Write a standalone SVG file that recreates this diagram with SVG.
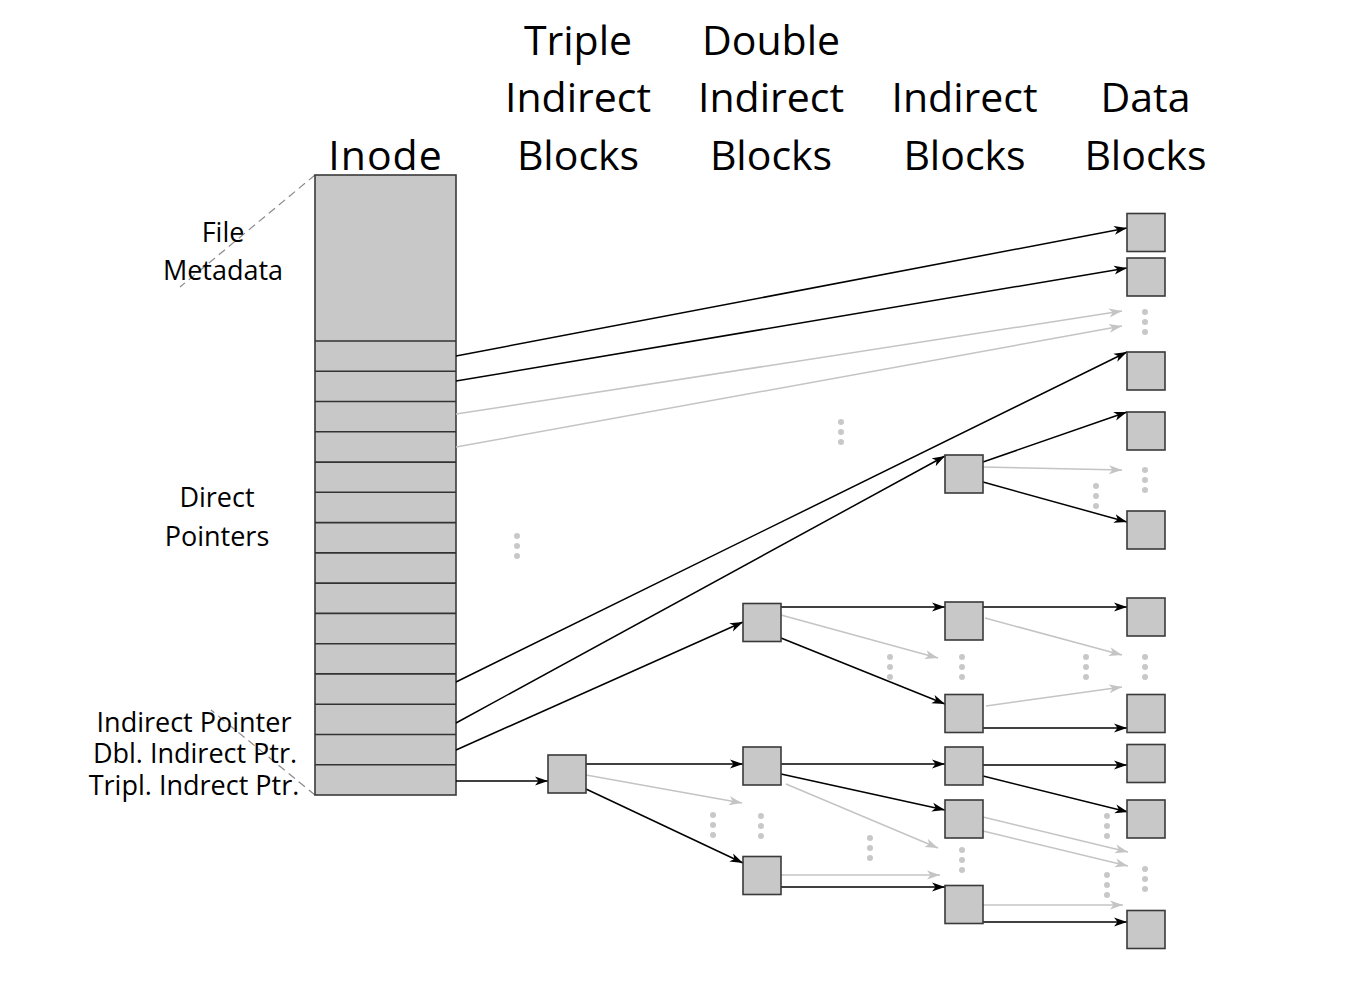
<svg xmlns="http://www.w3.org/2000/svg" width="1348" height="989" viewBox="0 0 1348 989">
<style>
.t{font-family:"Open Sans","Noto Sans","Liberation Sans",sans-serif;fill:#000;text-anchor:middle}
.h{font-size:41px}
.l{font-size:27px}
.blk{fill:#c8c8c8;stroke:#3a3a3a;stroke-width:1.6}
.sep{stroke:#333;stroke-width:1.6}
.a{stroke:#000;stroke-width:1.5;fill:none;marker-end:url(#ab)}
.g{stroke:#c4c4c4;stroke-width:1.5;fill:none;marker-end:url(#ag)}
.dash{stroke:#8a8a8a;stroke-width:1.2;stroke-dasharray:8 5;fill:none}
.d{fill:#c8c8c8}
</style>
<defs>
<marker id="ab" markerUnits="userSpaceOnUse" markerWidth="14" markerHeight="10" refX="13" refY="5" orient="auto"><path d="M0,0.5 L13,5 L0,9.5 L3.5,5 z" fill="#000"/></marker>
<marker id="ag" markerUnits="userSpaceOnUse" markerWidth="14" markerHeight="10" refX="13" refY="5" orient="auto"><path d="M0,0.5 L13,5 L0,9.5 L3.5,5 z" fill="#c4c4c4"/></marker>
<g id="dots"><circle cx="0" cy="0" r="3"/><circle cx="0" cy="10" r="3"/><circle cx="0" cy="20" r="3"/></g>
</defs>
<rect width="1348" height="989" fill="#fff"/>
<g id="titles">
<text class="t h" x="385.5" y="169.5" letter-spacing="1">Inode</text>
<text class="t h" x="578" y="54.5">Triple</text>
<text class="t h" x="578" y="112">Indirect</text>
<text class="t h" x="578" y="169.5">Blocks</text>
<text class="t h" x="771" y="54.5">Double</text>
<text class="t h" x="771" y="112">Indirect</text>
<text class="t h" x="771" y="169.5">Blocks</text>
<text class="t h" x="964.5" y="112">Indirect</text>
<text class="t h" x="964.5" y="169.5">Blocks</text>
<text class="t h" x="1145.5" y="112">Data</text>
<text class="t h" x="1145.5" y="169.5">Blocks</text>
</g>
<g id="labels">
<path class="dash" d="M315,175 L180,287"/>
<path class="dash" d="M315,795 L211,710"/>
<text class="t l" x="223" y="242">File</text>
<text class="t l" x="223" y="280">Metadata</text>
<text class="t l" x="217" y="507">Direct</text>
<text class="t l" x="217" y="546">Pointers</text>
<text class="t l" x="194" y="732">Indirect Pointer</text>
<text class="t l" x="195" y="763">Dbl. Indirect Ptr.</text>
<text class="t l" x="194" y="795">Tripl. Indrect Ptr.</text>
</g>
<g id="inode">
<rect class="blk" x="315" y="175" width="141" height="620"/>
<path class="sep" d="M315,341H456M315,371.3H456M315,401.5H456M315,431.8H456M315,462.1H456M315,492.3H456M315,522.6H456M315,552.9H456M315,583.1H456M315,613.4H456M315,643.7H456M315,673.9H456M315,704.2H456M315,734.5H456M315,764.7H456"/>
</g>
<g id="connectors">
<path class="g" d="M456,414 L1122,311"/>
<path class="g" d="M456,447 L1122,326"/>
<path class="g" d="M983,467 L1122,470"/>
<path class="g" d="M781,615 L938,658"/>
<path class="g" d="M985,618 L1122,655"/>
<path class="g" d="M986,706 L1122,687"/>
<path class="g" d="M586,775 L742,803"/>
<path class="g" d="M786,784 L938,848"/>
<path class="g" d="M781,875 L940,875"/>
<path class="g" d="M983,817 L1128,852"/>
<path class="g" d="M983,831 L1128,866"/>
<path class="g" d="M983,905 L1123,905"/>
<path class="a" d="M456,356 L1127,228"/>
<path class="a" d="M456,381 L1127,268"/>
<path class="a" d="M456,682 L1127,352"/>
<path class="a" d="M456,723 L945,456"/>
<path class="a" d="M456,750 L743,622"/>
<path class="a" d="M456,781 L548,781"/>
<path class="a" d="M983,462 L1127,412"/>
<path class="a" d="M983,482 L1127,522"/>
<path class="a" d="M781,607 L945,607"/>
<path class="a" d="M781,638 L945,704"/>
<path class="a" d="M983,607 L1127,607"/>
<path class="a" d="M983,728 L1127,728"/>
<path class="a" d="M586,764 L743,764"/>
<path class="a" d="M586,789 L743,863"/>
<path class="a" d="M781,764 L945,764"/>
<path class="a" d="M781,774 L945,810"/>
<path class="a" d="M781,887 L945,887"/>
<path class="a" d="M983,765 L1127,765"/>
<path class="a" d="M983,776 L1128,812"/>
<path class="a" d="M983,922 L1127,922"/>
</g>
<g id="ellipses" class="d">
<use href="#dots" x="1145" y="312"/>
<use href="#dots" x="841" y="422"/>
<use href="#dots" x="517" y="536"/>
<use href="#dots" x="1145" y="470"/>
<use href="#dots" x="1096" y="486"/>
<use href="#dots" x="890" y="657"/>
<use href="#dots" x="962" y="657"/>
<use href="#dots" x="1086" y="657"/>
<use href="#dots" x="1145" y="657"/>
<use href="#dots" x="713" y="815"/>
<use href="#dots" x="761" y="816"/>
<use href="#dots" x="870" y="838"/>
<use href="#dots" x="962" y="850"/>
<use href="#dots" x="1107" y="816"/>
<use href="#dots" x="1107" y="875"/>
<use href="#dots" x="1145" y="869"/>
</g>
<g id="triple"><rect class="blk" x="548" y="755" width="38" height="38"/></g>
<g id="double1"><rect class="blk" x="743" y="603.5" width="38" height="38"/></g>
<g id="double2"><rect class="blk" x="743" y="747" width="38" height="38"/></g>
<g id="double3"><rect class="blk" x="743" y="856.5" width="38" height="38"/></g>
<g id="indirect1"><rect class="blk" x="945" y="455" width="38" height="38"/></g>
<g id="indirect2"><rect class="blk" x="945" y="602" width="38" height="38"/></g>
<g id="indirect3"><rect class="blk" x="945" y="694.5" width="38" height="38"/></g>
<g id="indirect4"><rect class="blk" x="945" y="747" width="38" height="38"/></g>
<g id="indirect5"><rect class="blk" x="945" y="800" width="38" height="38"/></g>
<g id="indirect6"><rect class="blk" x="945" y="885.5" width="38" height="38"/></g>
<g id="data1"><rect class="blk" x="1127" y="213.5" width="38" height="38"/></g>
<g id="data2"><rect class="blk" x="1127" y="258" width="38" height="38"/></g>
<g id="data3"><rect class="blk" x="1127" y="352" width="38" height="38"/></g>
<g id="data4"><rect class="blk" x="1127" y="412" width="38" height="38"/></g>
<g id="data5"><rect class="blk" x="1127" y="511" width="38" height="38"/></g>
<g id="data6"><rect class="blk" x="1127" y="598" width="38" height="38"/></g>
<g id="data7"><rect class="blk" x="1127" y="694.5" width="38" height="38"/></g>
<g id="data8"><rect class="blk" x="1127" y="744.5" width="38" height="38"/></g>
<g id="data9"><rect class="blk" x="1127" y="800" width="38" height="38"/></g>
<g id="data10"><rect class="blk" x="1127" y="910.5" width="38" height="38"/></g>
</svg>
